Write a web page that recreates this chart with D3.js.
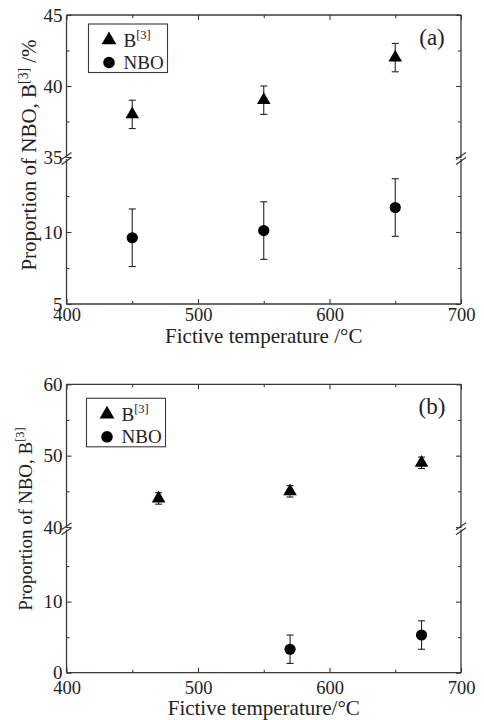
<!DOCTYPE html>
<html>
<head>
<meta charset="utf-8">
<script src="https://cdn.jsdelivr.net/npm/d3@7/dist/d3.min.js"></script>
<style>
  body { margin: 0; background: #fff; }
  text { font-family: "Liberation Serif", "Times New Roman", serif; fill: #222; }
</style>
</head>
<body>
<script>
var width = 484
var height = 720

// panel (a)
var tempA = [450, 550, 650]
var b3A = [38, 39, 42]
var b3ErrA = [1, 1, 1]
var nboA = [9.6, 10.1, 11.7]
var nboErrA = [2, 2, 2]
var yTicksUpperA = [35, 40, 45]
var yMinorUpperA = [37.5, 42.5]
var yTicksLowerA = [5, 10]
var yMinorLowerA = [7.5, 12.5]

// panel (b)
var tempB3B = [470, 570, 670]
var b3B = [44, 45, 49]
var b3ErrB = [0.8, 0.8, 0.8]
var tempNboB = [570, 670]
var nboB = [3.3, 5.3]
var nboErrB = [2, 2]
var yTicksUpperB = [40, 50, 60]
var yMinorUpperB = [45, 55]
var yTicksLowerB = [0, 10]
var yMinorLowerB = [5, 15]

var xTicks = [400, 500, 600, 700]
var xMinor = [450, 550, 650]

var svg = d3.select('body').append('svg')
    .attr('width', width)
    .attr('height', height)

var left = 66.5
var right = 461
var axisColor = '#3a3a3a'

var x = d3.scaleLinear().domain([400, 700]).range([left, right])

function drawPanel(opts) {
    var g = svg.append('g')
    var yU = d3.scaleLinear().domain(opts.upperDomain).range(opts.upperRange)
    var yL = d3.scaleLinear().domain(opts.lowerDomain).range(opts.lowerRange)
    var y = function (v) {
        return v >= opts.upperDomain[0] ? yU(v) : yL(v)
    }
    var top = opts.upperRange[1]
    var bottom = opts.lowerRange[0]

    // ticks, pointing inward
    function addAxis(axis, tx, ty, size) {
        var a = g.append('g')
            .attr('transform', 'translate(' + tx + ',' + ty + ')')
            .call(axis)
        a.select('.domain').remove()
        a.selectAll('line').attr('stroke', axisColor).attr('stroke-width', 1.1)
        a.selectAll('text')
            .style('font-size', (size || 19) + 'px')
            .style('font-family', '"Liberation Serif", "Times New Roman", serif')
            .attr('fill', '#222')
        return a
    }

    ;[[yU, opts.upperTicks, opts.upperMinor], [yL, opts.lowerTicks, opts.lowerMinor]].forEach(function (s) {
        addAxis(d3.axisLeft(s[0]).tickValues(s[1]).tickSize(-5).tickPadding(4), left, 0)
        addAxis(d3.axisLeft(s[0]).tickValues(s[2]).tickSize(-3).tickFormat(''), left, 0)
        addAxis(d3.axisRight(s[0]).tickValues(s[1]).tickSize(-5).tickFormat(''), right, 0)
        addAxis(d3.axisRight(s[0]).tickValues(s[2]).tickSize(-3).tickFormat(''), right, 0)
    })

    addAxis(d3.axisBottom(x).tickValues(xTicks).tickSize(-5).tickPadding(opts.xPad), 0, bottom, 18.5)
    addAxis(d3.axisBottom(x).tickValues(xMinor).tickSize(-3).tickFormat(''), 0, bottom)
    addAxis(d3.axisTop(x).tickValues(xTicks).tickSize(-5).tickFormat(''), 0, top)
    addAxis(d3.axisTop(x).tickValues(xMinor).tickSize(-3).tickFormat(''), 0, top)

    // frame with breaks
    var gapTop = opts.upperRange[0] + 1
    var gapBot = opts.lowerRange[1] - 1
    var frame = g.append('g').attr('stroke', axisColor).attr('stroke-width', 1.3)
    frame.append('line').attr('x1', left).attr('x2', right).attr('y1', top).attr('y2', top)
    frame.append('line').attr('x1', left).attr('x2', right).attr('y1', bottom).attr('y2', bottom)
    ;[left, right].forEach(function (xx) {
        frame.append('line').attr('x1', xx).attr('x2', xx).attr('y1', top).attr('y2', gapTop)
        frame.append('line').attr('x1', xx).attr('x2', xx).attr('y1', gapBot).attr('y2', bottom)
        var mid = (gapTop + gapBot) / 2
        ;[-2.5, 2.5].forEach(function (off) {
            frame.append('line')
                .attr('x1', xx - 5).attr('y1', mid + off + 3.5)
                .attr('x2', xx + 5).attr('y2', mid + off - 3.5)
        })
    })

    // error bars
    function errorBars(xs, ys, errs) {
        var eb = g.append('g').attr('stroke', '#222').attr('stroke-width', 1.1)
        xs.forEach(function (t, i) {
            var cx = x(t)
            var y1 = y(ys[i] + errs[i])
            var y2 = y(ys[i] - errs[i])
            eb.append('line').attr('x1', cx).attr('x2', cx).attr('y1', y1).attr('y2', y2)
            eb.append('line').attr('x1', cx - 3.5).attr('x2', cx + 3.5).attr('y1', y1).attr('y2', y1)
            eb.append('line').attr('x1', cx - 3.5).attr('x2', cx + 3.5).attr('y1', y2).attr('y2', y2)
        })
    }
    errorBars(opts.b3Temp, opts.b3, opts.b3Err)
    errorBars(opts.nboTemp, opts.nbo, opts.nboErr)

    var tri = d3.symbol().type(d3.symbolTriangle).size(80)
    g.append('g').selectAll('path')
        .data(opts.b3)
        .enter()
        .append('path')
        .attr('d', tri)
        .attr('fill', '#000')
        .attr('transform', function (d, i) {
            return 'translate(' + x(opts.b3Temp[i]) + ',' + y(d) + ')'
        })

    g.append('g').selectAll('circle')
        .data(opts.nbo)
        .enter()
        .append('circle')
        .attr('cx', function (d, i) { return x(opts.nboTemp[i]) })
        .attr('cy', function (d) { return y(d) })
        .attr('r', 5.6)
        .attr('fill', '#000')

    // legend
    var lg = g.append('g').attr('transform', 'translate(' + opts.legend[0] + ',' + opts.legend[1] + ')')
    lg.append('rect')
        .attr('width', 79).attr('height', 48.5)
        .attr('fill', '#fff').attr('stroke', axisColor).attr('stroke-width', 1.1)
    lg.append('path')
        .attr('d', d3.symbol().type(d3.symbolTriangle).size(95))
        .attr('transform', 'translate(20.5,16)')
    lg.append('circle').attr('cx', 20.5).attr('cy', 38.5).attr('r', 5.8)
    var t1 = lg.append('text').attr('x', 35).attr('y', 23).style('font-size', '19px')
    t1.append('tspan').text('B')
    t1.append('tspan').attr('dy', -8).style('font-size', '12.5px').text('[3]')
    lg.append('text').attr('x', 35).attr('y', 44.5).style('font-size', '19px').text('NBO')

    g.append('text')
        .attr('x', 432).attr('y', opts.tagY)
        .attr('text-anchor', 'middle')
        .style('font-size', '23px')
        .text(opts.tag)

    // axis titles
    g.append('text')
        .attr('x', (left + right) / 2).attr('y', opts.xTitleY)
        .attr('text-anchor', 'middle')
        .style('font-size', '21px')
        .text(opts.xTitle)

    var yt = g.append('text')
        .attr('transform', 'translate(' + opts.yTitleX + ',' + opts.yTitleY + ') rotate(-90)')
        .attr('text-anchor', 'middle')
        .style('font-size', opts.yTitleSize + 'px')
    yt.append('tspan').text('Proportion of NBO, B')
    yt.append('tspan').attr('dy', -8).style('font-size', (opts.yTitleSize * 0.65) + 'px').text('[3]')
    if (opts.yUnit) yt.append('tspan').attr('dy', 8).text(opts.yUnit)
}

drawPanel({
    upperDomain: [35, 45], upperRange: [157, 15],
    lowerDomain: [5, 15], lowerRange: [304, 160],
    upperTicks: yTicksUpperA, upperMinor: yMinorUpperA,
    lowerTicks: yTicksLowerA, lowerMinor: yMinorLowerA,
    b3Temp: tempA, b3: b3A, b3Err: b3ErrA,
    nboTemp: tempA, nbo: nboA, nboErr: nboErrA,
    xPad: 4,
    legend: [88.5, 24],
    tag: '(a)', tagY: 45,
    xTitle: 'Fictive temperature /\u00b0C', xTitleY: 343,
    yUnit: ' /%', yTitleSize: 21,
    yTitleX: 36, yTitleY: 155
})

drawPanel({
    upperDomain: [40, 60], upperRange: [527, 384.3],
    lowerDomain: [0, 20], lowerRange: [672.7, 530.5],
    upperTicks: yTicksUpperB, upperMinor: yMinorUpperB,
    lowerTicks: yTicksLowerB, lowerMinor: yMinorLowerB,
    b3Temp: tempB3B, b3: b3B, b3Err: b3ErrB,
    nboTemp: tempNboB, nbo: nboB, nboErr: nboErrB,
    xPad: 8,
    legend: [86.5, 398.3],
    tag: '(b)', tagY: 414,
    xTitle: 'Fictive temperature/\u00b0C', xTitleY: 715,
    yUnit: null, yTitleSize: 19,
    yTitleX: 32, yTitleY: 519
})
</script>
</body>
</html>
